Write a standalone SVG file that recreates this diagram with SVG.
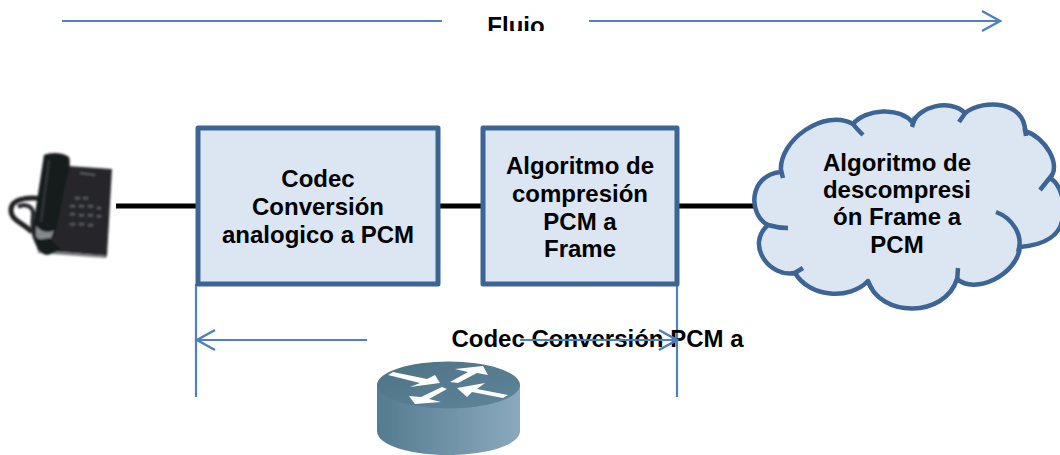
<svg xmlns="http://www.w3.org/2000/svg" width="1060" height="455" viewBox="0 0 1060 455">
<style>
text{font-family:"Liberation Sans",Arial,sans-serif;font-weight:bold;font-size:24px;fill:#000;text-anchor:middle}
.box{fill:#dce6f2;stroke:#3c6595;stroke-width:5;stroke-linejoin:round}
.cloud{fill:#dce6f2;stroke:#3c6595;stroke-width:4.500;stroke-linejoin:round}
.hook{fill:none;stroke:#3c6595;stroke-width:4.500}
.wire{stroke:#000;stroke-width:5;fill:none}
.flow{stroke:#4f81bd;stroke-width:2.200;fill:none}
.arrow{fill:#fff}
</style>
<defs>
<marker id="open" markerUnits="userSpaceOnUse" markerWidth="24" markerHeight="24" refX="20" refY="12" orient="auto-start-reverse"><path d="M2 2L20 12L2 22" fill="none" stroke="#4f81bd" stroke-width="2.500"/></marker>
<clipPath id="flujoClip"><rect x="470" y="0" width="100" height="31"/></clipPath>
<linearGradient id="rside" x1="0" x2="1" y1="0" y2="0"><stop offset="0" stop-color="#557b8f"/><stop offset="1" stop-color="#8aa9bf"/></linearGradient>
<linearGradient id="rtop" x1="0" x2="1" y1="0" y2="1"><stop offset="0" stop-color="#4d7286"/><stop offset="1" stop-color="#5f8599"/></linearGradient>
<filter id="soft" x="-10%" y="-10%" width="120%" height="120%"><feGaussianBlur stdDeviation="0.9"/></filter>
<filter id="softer" x="-10%" y="-10%" width="120%" height="120%"><feGaussianBlur stdDeviation="0.4"/></filter>
</defs>

<g id="connectors">
<path class="wire" d="M116 206H197M439 206H482M678 206H757"/>
<path class="flow" d="M62 21H442"/>
<path class="flow" d="M589 21H1000" marker-end="url(#open)"/>
<path class="flow" d="M196 284V397M677 284V397"/>
<path class="flow" d="M367 340H197" marker-end="url(#open)"/>
</g>

<g id="flujo"><text x="516" y="34" clip-path="url(#flujoClip)">Flujo</text></g>

<g id="phone" filter="url(#soft)">
<path d="M50 200C30 196 12 198 11 209C10 220 22 222 32 232" fill="none" stroke="#202224" stroke-width="5"/>
<path d="M18 207C24 203 32 206 33 212C33 222 30 230 38 245" fill="none" stroke="#2a2d30" stroke-width="4"/>
<path d="M68 166L112 169L107 256L37 250Z" fill="#26282b"/>
<path d="M38 250L107 256L106 258L38 253Z" fill="#777b7e"/>
<path d="M80 173L95 175" stroke="#5f6468" stroke-width="1.400"/>
<g fill="#54595d">
<rect x="75" y="197" width="5" height="2.500"/><rect x="83" y="197" width="5" height="2.500"/>
<rect x="70" y="205" width="5" height="2.500"/><rect x="79" y="205" width="5" height="2.500"/><rect x="88" y="205" width="5" height="2.500"/><rect x="97" y="207" width="4" height="2.500"/>
<rect x="70" y="213" width="5" height="2.500"/><rect x="79" y="214" width="5" height="2.500"/><rect x="88" y="214" width="5" height="2.500"/><rect x="97" y="215" width="4" height="2.500"/>
<rect x="70" y="223" width="5" height="2.500"/><rect x="79" y="223" width="5" height="2.500"/><rect x="88" y="224" width="5" height="2.500"/>
</g>
<path d="M44 155C50 152 63 152 69 157C71 163 69 172 66 182L56 232C52 241 41 244 36 239C32 234 33 226 34 220Z" fill="#191a1c"/>
<path d="M49 160L41 222" stroke="#36393c" stroke-width="2"/>
<path d="M36 226C41 232 49 234 54 230L51 238C45 241 37 240 36 236Z" fill="#85898c"/>
<path d="M36 240C35 248 41 255 48 255L61 250L50 238Z" fill="#191a1c"/>
</g>

<g id="codec-a-pcm">
<rect class="box" x="198" y="128" width="240" height="156"/>
<text x="318" y="187">Codec</text>
<text x="318" y="214.500">Conversión</text>
<text x="318" y="242.500">analogico a PCM</text>
</g>

<g id="compresion">
<rect class="box" x="483" y="128" width="194" height="156"/>
<text x="580" y="174">Algoritmo de</text>
<text x="580" y="202">compresión</text>
<text x="580" y="230">PCM a</text>
<text x="580" y="257">Frame</text>
</g>

<g id="descompresion">
<path class="cloud" d="M781 172C778 140 825 108 853 124C865 109 900 106 913 123C918 107 950 98 965 113C985 98 1025 102 1025 131C1045 137 1062 165 1050 178C1062 185 1065 205 1063 215C1062 235 1045 245 1020 247C1017 275 975 295 957 279C945 318 880 318 868 281C850 300 810 298 795 273C770 278 745 245 768 225C748 215 748 175 781 172Z"/>
<path class="hook" d="M781 170L783 178M853 124C856 128 859 131 863 135M915 117L912 127M966 112L959 122M1025 128L1026 136M1052 175L1040 190M996 212C1012 218 1024 235 1018 252M958 268L957 282M867 280L872 289M803 268L793 274M768 225C775 227 782 228 788 228"/>
<text x="897" y="171">Algoritmo de</text>
<text x="897" y="198">descompresi</text>
<text x="897" y="225">ón Frame a</text>
<text x="897" y="253">PCM</text>
</g>

<g id="codec-pcm-a">
<text x="597.500" y="347">Codec Conversión PCM a</text>
<path class="flow" d="M520 340H677" marker-end="url(#open)"/>
</g>

<g id="router" filter="url(#softer)">
<path d="M377 385V431C377 445 409 455 448 455S520 445 520 431V385Z" fill="url(#rside)"/>
<ellipse cx="448.500" cy="385" rx="71.500" ry="23.500" fill="url(#rtop)"/>
<path class="arrow" d="M393 372L427 379L435 375L440 383L410 387L420 383L388 375Z"/>
<path class="arrow" d="M450 382L458 383L477 373L488 375L483 366L455 369L468 372Z"/>
<path class="arrow" d="M442 387L447 389L429 399L441 402L415 404L409 396L421 397Z"/>
<path class="arrow" d="M457 388L485 383L477 389L508 395L503 398L472 392L467 397Z"/>
</g>
</svg>
